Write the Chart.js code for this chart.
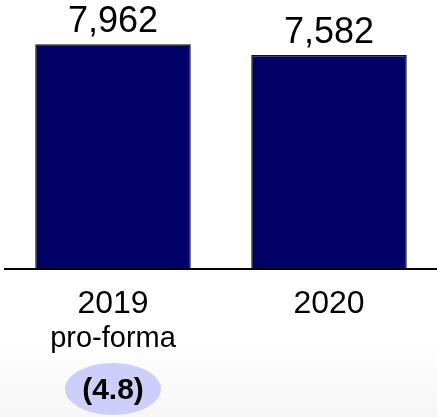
<!DOCTYPE html>
<html>
<head>
<meta charset="utf-8">
<script src="https://cdn.jsdelivr.net/npm/chart.js@4.4.1/dist/chart.umd.min.js"></script>
<style>
  html, body { margin: 0; padding: 0; }
  body {
    width: 437px; height: 417px;
    background: linear-gradient(to bottom, #ffffff 0px, #ffffff 340px, #f6f6f6 417px);
  }
  #wrap { width: 437px; height: 417px; }
</style>
</head>
<body>
<div id="wrap"><canvas id="chart"></canvas></div>
<script>
const categories = ['2019', '2020'];
const subLabels = ['pro-forma', ''];
const values = [7962, 7582];
const changeLabels = ['(4.8)', ''];

const FONT = "'Liberation Sans', Arial, sans-serif";

// value labels above bars, sub labels and the change bubble under the axis
const overlay = {
  id: 'overlay',
  afterDatasetsDraw(chart) {
    const ctx = chart.ctx;
    const meta = chart.getDatasetMeta(0);
    const x = chart.scales.x;
    ctx.save();
    ctx.fillStyle = '#000';
    ctx.textAlign = 'center';
    ctx.textBaseline = 'alphabetic';
    ctx.font = '36px ' + FONT;
    meta.data.forEach((bar, i) => {
      ctx.fillText(values[i].toLocaleString('en-US'), bar.x, bar.y - 12);
    });

    ctx.font = '29px ' + FONT;
    subLabels.forEach((s, i) => {
      if (s) ctx.fillText(s, x.getPixelForValue(i), 347);
    });

    changeLabels.forEach((c, i) => {
      if (!c) return;
      const cx = x.getPixelForValue(i);
      ctx.beginPath();
      ctx.ellipse(cx, 389, 48, 26, 0, 0, Math.PI * 2);
      ctx.fillStyle = 'rgb(206,206,250)';
      ctx.fill();
      ctx.fillStyle = '#000';
      ctx.font = 'bold 30px ' + FONT;
      ctx.fillText(c, cx, 399);
    });
    ctx.restore();
  }
};

new Chart(document.getElementById('chart'), {
  type: 'bar',
  data: {
    labels: categories,
    datasets: [{
      data: values,
      backgroundColor: 'rgb(0,0,102)',
      borderColor: '#111',
      borderWidth: 1.5,
      categoryPercentage: 1,
      barPercentage: 0.72
    }]
  },
  options: {
    responsive: true,
    maintainAspectRatio: false,
    animation: false,
    layout: { padding: { top: 15, left: 5, right: 0, bottom: 78 } },
    plugins: { legend: { display: false }, tooltip: { enabled: false } },
    scales: {
      x: {
        grid: { display: false, drawTicks: false },
        border: { display: true, color: '#000', width: 2 },
        ticks: { color: '#000', font: { family: FONT, size: 32 }, padding: 16 }
      },
      y: { display: false, min: 0, max: 9000 }
    }
  },
  plugins: [overlay]
});
</script>
</body>
</html>
